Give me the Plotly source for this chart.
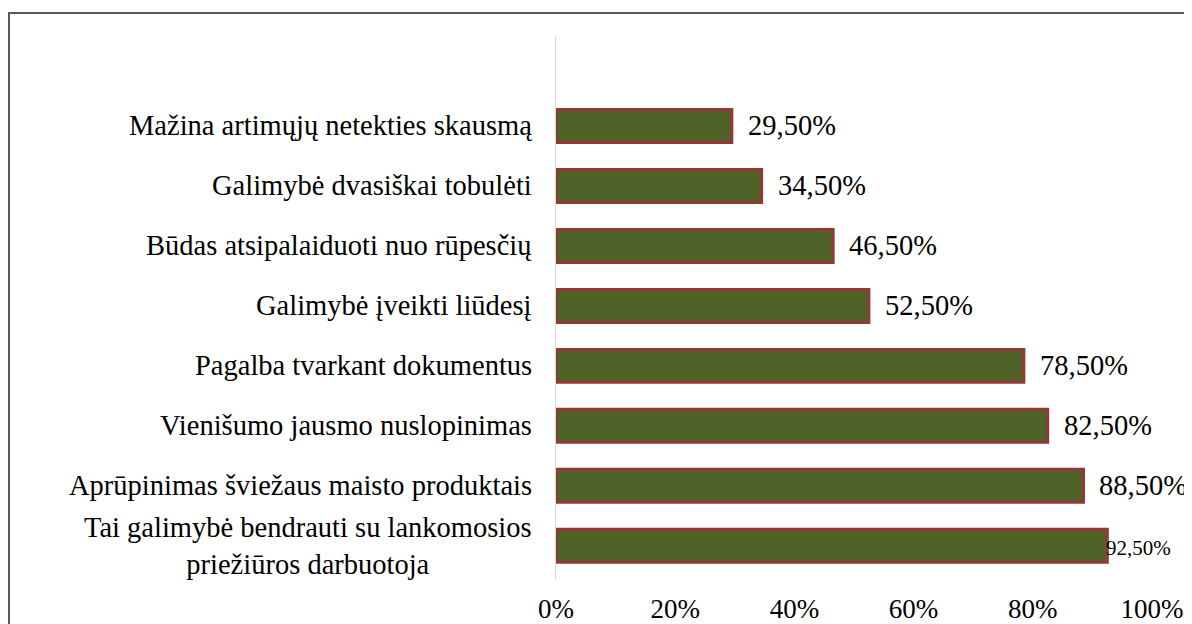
import plotly.graph_objects as go

categories = [
    "Tai galimybė bendrauti su lankomosios<br>priežiūros darbuotoja",
    "Aprūpinimas šviežaus maisto produktais",
    "Vienišumo jausmo nuslopinimas",
    "Pagalba tvarkant dokumentus",
    "Galimybė įveikti liūdesį",
    "Būdas atsipalaiduoti nuo rūpesčių",
    "Galimybė dvasiškai tobulėti",
    "Mažina artimųjų netekties skausmą",
]
values = [0.925, 0.885, 0.825, 0.785, 0.525, 0.465, 0.345, 0.295]
value_labels = ["92,50%", "88,50%", "82,50%", "78,50%", "52,50%", "46,50%", "34,50%", "29,50%"]
x_ticks = [0, 0.2, 0.4, 0.6, 0.8, 1.0]
x_tick_labels = ["0%", "20%", "40%", "60%", "80%", "100%"]

FONT = "Liberation Serif, Times New Roman, serif"
ypos = list(range(len(categories)))

fig = go.Figure(go.Bar(
    x=values, y=ypos, orientation="h", width=0.55,
    marker=dict(color="#4F6228", line=dict(color="#953735", width=3)),
    hoverinfo="skip",
))

annotations = []
for i, (v, lab) in enumerate(zip(values, value_labels)):
    small = i == 0
    annotations.append(dict(
        x=v, y=i, xref="x", yref="y", text=lab, showarrow=False,
        xanchor="left", yanchor="middle", xshift=-3 if small else 14,
        yshift=-2 if small else 0,
        font=dict(family=FONT, size=21 if small else 28.5, color="black"),
    ))
for i, c in enumerate(categories):
    annotations.append(dict(
        x=0, y=i, xref="paper", yref="y", text=c, showarrow=False,
        xanchor="right", yanchor="middle", xshift=-22, align="center",
        font=dict(family=FONT, size=28.5, color="black"),
    ))

W, H = 1192, 624
OFF = 8  # page body offset
L, R, T, B = 556 - OFF, 48, 36 - OFF, 52
pw, ph = W - L - R, H - T - B

def px_x(p):
    return (p - OFF - L) / pw

def px_y(p):
    return (H - B - (p - OFF)) / ph

fig.update_layout(
    width=W, height=H,
    margin=dict(l=L, r=R, t=T, b=B, autoexpand=False),
    paper_bgcolor="white", plot_bgcolor="white",
    showlegend=False,
    annotations=annotations,
    xaxis=dict(
        range=[0, 1.0], tickvals=x_ticks, ticktext=x_tick_labels,
        showgrid=False, zeroline=False, showline=False,
        ticks="outside", ticklen=5, tickcolor="rgba(0,0,0,0)",
        tickfont=dict(family=FONT, size=27, color="black"),
    ),
    yaxis=dict(
        range=[-0.57, 8.5], showticklabels=False, showgrid=False,
        zeroline=False, showline=True, linecolor="#D9D9D9", linewidth=1,
    ),
    shapes=[dict(
        type="rect", xref="paper", yref="paper",
        x0=px_x(9), x1=px_x(1200), y0=px_y(640), y1=px_y(13),
        line=dict(color="#595959", width=2), fillcolor="rgba(0,0,0,0)",
        layer="above",
    )],
)

fig.write_html("out.html")
